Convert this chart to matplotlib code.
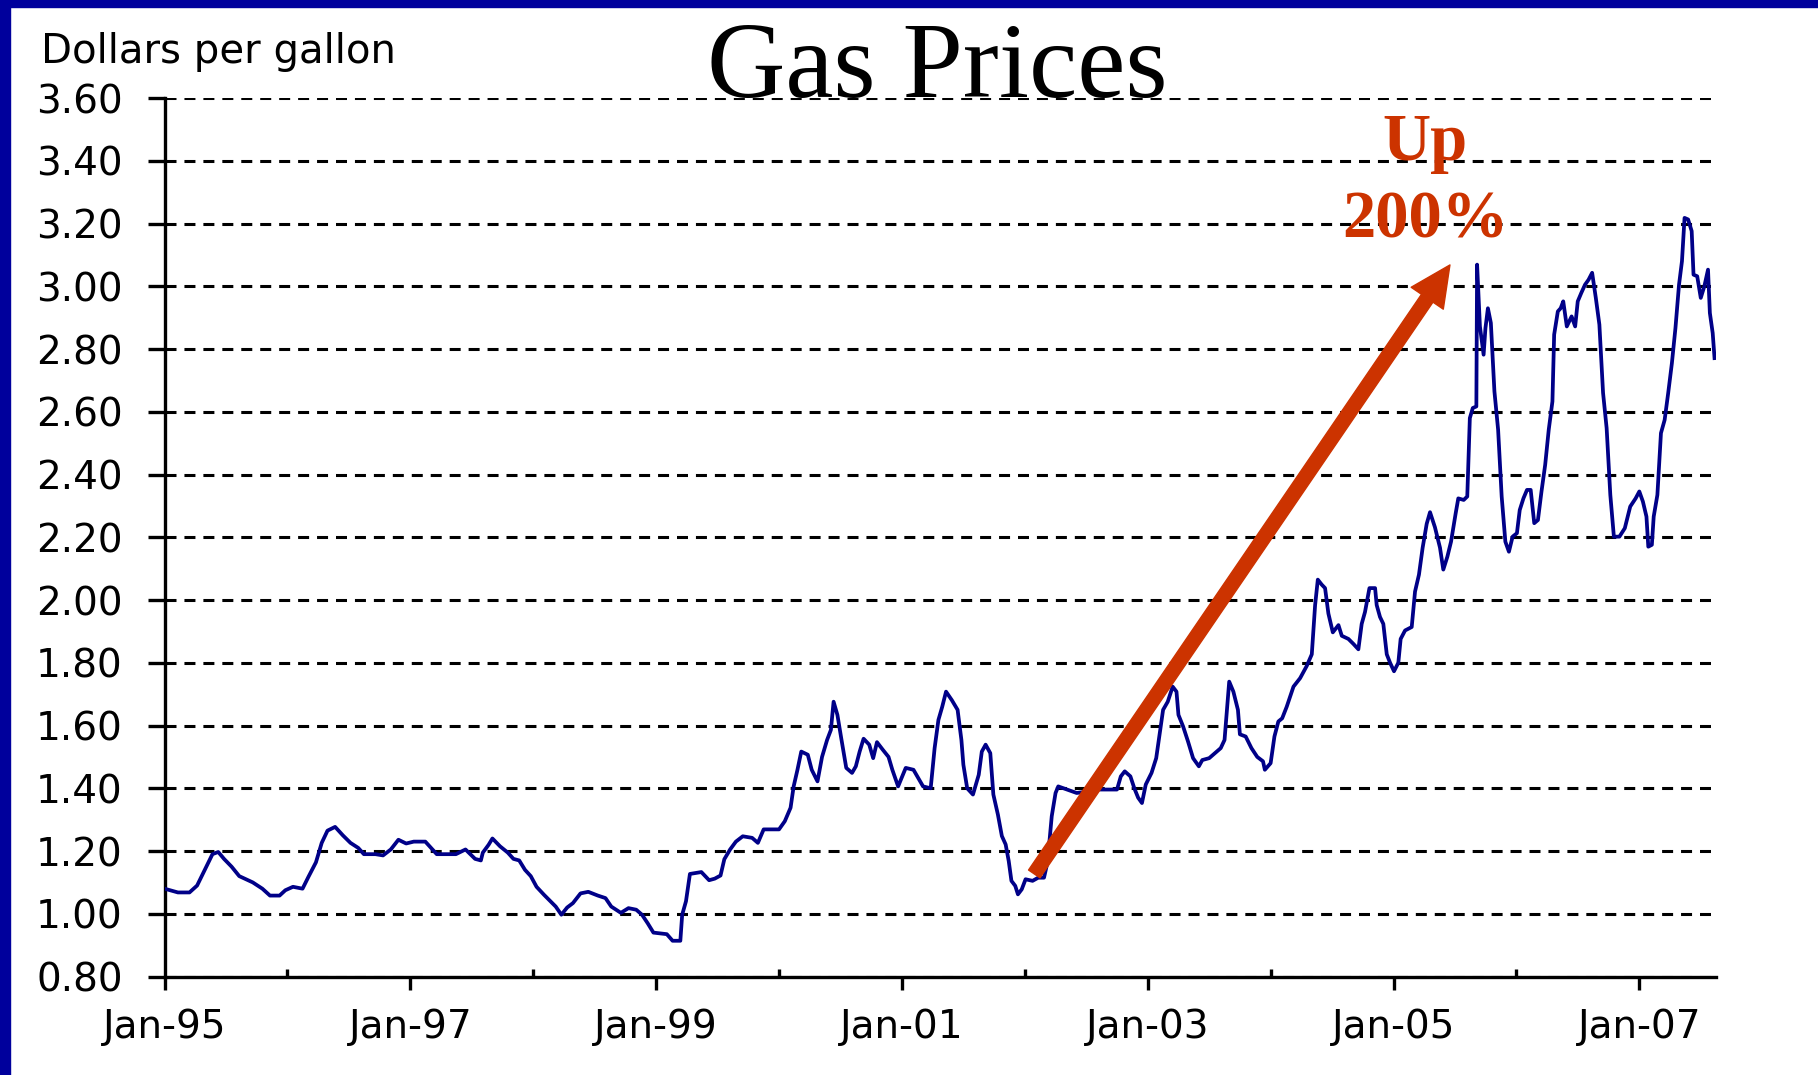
import matplotlib
matplotlib.use("Agg")
import matplotlib.pyplot as plt
from matplotlib.patches import Rectangle

# weekly regular gasoline price (decimal year, $/gal)
years = [
    1995.000, 1995.109, 1995.203, 1995.265, 1995.328, 1995.390, 1995.437, 1995.484,
    1995.546, 1995.608, 1995.718, 1995.796, 1995.858, 1995.936, 1995.983, 1996.045,
    1996.123, 1996.170, 1996.232, 1996.279, 1996.326, 1996.388, 1996.451, 1996.513,
    1996.576, 1996.622, 1996.716, 1996.778, 1996.841, 1996.903, 1996.966, 1997.028,
    1997.122, 1997.168, 1997.215, 1997.371, 1997.449, 1997.527, 1997.574, 1997.590,
    1997.637, 1997.668, 1997.730, 1997.793, 1997.839, 1997.886, 1997.933, 1997.980,
    1998.027, 1998.089, 1998.183, 1998.229, 1998.276, 1998.323, 1998.385, 1998.448,
    1998.526, 1998.588, 1998.635, 1998.713, 1998.775, 1998.838, 1998.885, 1998.931,
    1998.978, 1999.087, 1999.134, 1999.197, 1999.212, 1999.243, 1999.275, 1999.368,
    1999.431, 1999.477, 1999.524, 1999.555, 1999.602, 1999.649, 1999.705,
    1999.781, 1999.828, 1999.875, 2000.000, 2000.047, 2000.094, 2000.119, 2000.150,
    2000.181, 2000.234, 2000.266, 2000.313, 2000.350, 2000.391, 2000.422, 2000.444,
    2000.475, 2000.506, 2000.547, 2000.594, 2000.625, 2000.656, 2000.688, 2000.734,
    2000.766, 2000.797, 2000.844, 2000.891, 2000.922, 2000.969, 2001.031, 2001.094,
    2001.125, 2001.172, 2001.234, 2001.266, 2001.297, 2001.328, 2001.359, 2001.406,
    2001.453, 2001.484, 2001.500, 2001.531, 2001.578, 2001.625, 2001.650, 2001.681,
    2001.719, 2001.744, 2001.781, 2001.813, 2001.844, 2001.869, 2001.891, 2001.922,
    2001.944, 2001.975, 2002.006, 2002.063, 2002.109, 2002.156, 2002.181, 2002.203,
    2002.219, 2002.250, 2002.272, 2002.344, 2002.422, 2002.516, 2002.594, 2002.750,
    2002.781, 2002.813, 2002.859, 2002.891, 2002.922, 2002.953, 2002.984, 2003.031,
    2003.069, 2003.094, 2003.125, 2003.163, 2003.203, 2003.234, 2003.250, 2003.288,
    2003.328, 2003.369, 2003.416, 2003.444, 2003.500, 2003.547, 2003.594, 2003.625,
    2003.663, 2003.697, 2003.734, 2003.750, 2003.797, 2003.844, 2003.891, 2003.938,
    2003.953, 2004.000, 2004.031, 2004.063, 2004.094, 2004.131,
    2004.186, 2004.240, 2004.294, 2004.335, 2004.362, 2004.384, 2004.416, 2004.443,
    2004.470, 2004.506, 2004.552, 2004.579, 2004.633, 2004.674, 2004.714, 2004.741,
    2004.768, 2004.804, 2004.850, 2004.863, 2004.890, 2004.917, 2004.945, 2004.972,
    2005.004, 2005.039, 2005.058, 2005.094, 2005.148, 2005.175, 2005.207, 2005.237,
    2005.270, 2005.297, 2005.337, 2005.378, 2005.405, 2005.438, 2005.468, 2005.506,
    2005.527, 2005.571, 2005.600, 2005.621, 2005.645, 2005.674, 2005.680, 2005.703,
    2005.733, 2005.748, 2005.768, 2005.792, 2005.821, 2005.851, 2005.880, 2005.910,
    2005.939, 2005.969, 2006.004, 2006.027, 2006.057, 2006.086, 2006.116, 2006.145,
    2006.175, 2006.204, 2006.234, 2006.263, 2006.293, 2006.307, 2006.337, 2006.360,
    2006.381, 2006.410, 2006.449, 2006.478, 2006.499, 2006.528, 2006.558, 2006.587,
    2006.616, 2006.646, 2006.675, 2006.705, 2006.734, 2006.764, 2006.793, 2006.838,
    2006.882, 2006.926, 2006.970, 2007.000, 2007.029, 2007.058, 2007.073, 2007.102,
    2007.117, 2007.147, 2007.176, 2007.206, 2007.235, 2007.265, 2007.294, 2007.323,
    2007.347, 2007.368, 2007.397, 2007.426, 2007.441, 2007.471, 2007.500, 2007.529,
    2007.559, 2007.574, 2007.597, 2007.612,
]
prices = [
    1.080, 1.068, 1.068, 1.090, 1.140, 1.190, 1.197, 1.175,
    1.150, 1.120, 1.100, 1.080, 1.058, 1.058, 1.075, 1.086,
    1.080, 1.117, 1.164, 1.226, 1.265, 1.277, 1.250, 1.226,
    1.210, 1.190, 1.190, 1.186, 1.205, 1.236, 1.224, 1.230,
    1.230, 1.210, 1.190, 1.190, 1.205, 1.175, 1.170, 1.195,
    1.220, 1.240, 1.215, 1.195, 1.175, 1.170, 1.140, 1.120,
    1.086, 1.060, 1.023, 0.997, 1.020, 1.034, 1.065, 1.070,
    1.058, 1.050, 1.023, 1.003, 1.018, 1.013, 0.997, 0.970,
    0.940, 0.935, 0.914, 0.914, 0.997, 1.040, 1.127, 1.133,
    1.107, 1.112, 1.122, 1.174, 1.205, 1.230, 1.247,
    1.242, 1.226, 1.269, 1.269, 1.295, 1.338, 1.406, 1.459,
    1.517, 1.507, 1.459, 1.422, 1.500, 1.554, 1.586, 1.676,
    1.634, 1.560, 1.465, 1.449, 1.470, 1.517, 1.558, 1.539,
    1.496, 1.547, 1.523, 1.500, 1.459, 1.406, 1.465, 1.459,
    1.438, 1.406, 1.400, 1.528, 1.618, 1.660, 1.708, 1.681,
    1.650, 1.554, 1.475, 1.400, 1.380, 1.443, 1.517, 1.539,
    1.512, 1.380, 1.316, 1.248, 1.221, 1.168, 1.105, 1.089,
    1.062, 1.078, 1.110, 1.105, 1.115, 1.115, 1.158, 1.242,
    1.311, 1.385, 1.406, 1.396, 1.385, 1.390, 1.396, 1.396,
    1.438, 1.454, 1.438, 1.400, 1.370, 1.353, 1.412, 1.449,
    1.496, 1.565, 1.650, 1.676, 1.724, 1.708, 1.634, 1.597,
    1.549, 1.496, 1.470, 1.490, 1.496, 1.512, 1.528, 1.554,
    1.740, 1.708, 1.650, 1.572, 1.565, 1.528, 1.500, 1.486,
    1.459, 1.480, 1.565, 1.613, 1.623, 1.660,
    1.724, 1.751, 1.790, 1.827, 1.984, 2.065, 2.049, 2.038,
    1.957, 1.897, 1.920, 1.886, 1.876, 1.860, 1.843, 1.924,
    1.962, 2.038, 2.038, 1.984, 1.946, 1.924, 1.827, 1.800,
    1.773, 1.800, 1.876, 1.903, 1.914, 2.027, 2.081, 2.167,
    2.243, 2.280, 2.232, 2.167, 2.097, 2.138, 2.186, 2.277,
    2.324, 2.319, 2.330, 2.580, 2.612, 2.617, 3.069, 2.872,
    2.782, 2.867, 2.930, 2.883, 2.665, 2.543, 2.330, 2.186,
    2.154, 2.202, 2.213, 2.287, 2.324, 2.351, 2.351, 2.245,
    2.255, 2.346, 2.431, 2.543, 2.633, 2.846, 2.920, 2.930,
    2.952, 2.872, 2.904, 2.872, 2.952, 2.979, 3.005, 3.021,
    3.043, 2.963, 2.878, 2.660, 2.548, 2.335, 2.202, 2.202,
    2.229, 2.298, 2.324, 2.346, 2.314, 2.266, 2.170, 2.176,
    2.266, 2.335, 2.532, 2.574, 2.660, 2.755, 2.867, 3.005,
    3.080, 3.218, 3.213, 3.176, 3.037, 3.032, 2.963, 3.000,
    3.053, 2.915, 2.851, 2.771,
]

y_ticks = [0.80, 1.00, 1.20, 1.40, 1.60, 1.80, 2.00, 2.20, 2.40, 2.60, 2.80, 3.00, 3.20, 3.40, 3.60]
x_major = [1995, 1997, 1999, 2001, 2003, 2005, 2007]
x_major_labels = ["Jan-95", "Jan-97", "Jan-99", "Jan-01", "Jan-03", "Jan-05", "Jan-07"]
x_minor = [1996, 1998, 2000, 2002, 2004, 2006]

arrow_from = (2002.077, 1.127)
arrow_to = (2005.459, 3.068)

RED = "#CC3300"
NAVY = "#000088"

fig = plt.figure(figsize=(18.18, 10.75), dpi=100)
ax = fig.add_axes([0.0905, 0.0916, 0.8534, 0.8172])

ax.plot(years, prices, color=NAVY, lw=2.7, zorder=3)

ax.set_xlim(1995.0, 2007.624)
ax.set_ylim(0.8, 3.6)

ax.set_yticks(y_ticks)
ax.set_yticklabels(["%.2f" % v for v in y_ticks])
ax.set_xticks(x_major)
ax.set_xticklabels(x_major_labels)
ax.set_xticks(x_minor, minor=True)

ax.grid(axis="y", color="black", lw=2.2, linestyle=(0, (3.6, 2.6)), zorder=1)
ax.set_axisbelow(True)

for side in ["top", "right"]:
    ax.spines[side].set_visible(False)
for side in ["left", "bottom"]:
    ax.spines[side].set_linewidth(2.4)

ax.tick_params(axis="y", direction="out", length=12, width=2.4, pad=18, labelsize=28)
ax.tick_params(axis="x", which="major", direction="out", length=9, width=2.4, pad=14, labelsize=28)
ax.tick_params(axis="x", which="minor", direction="in", length=5.5, width=2.4)

ax.annotate(
    "", xy=arrow_to, xytext=arrow_from,
    arrowprops=dict(facecolor=RED, edgecolor=RED, width=10, headwidth=28, headlength=29, shrink=0),
    zorder=4,
)

fig.text(0.5154, 0.9098, "Gas Prices", family="Liberation Serif", fontsize=78, ha="center", va="baseline")
fig.text(0.0223, 0.9414, "Dollars per gallon", fontsize=29, ha="left", va="baseline")
fig.text(0.7838, 0.851, "Up", family="Liberation Serif", fontweight="bold", fontsize=48,
         color=RED, ha="center", va="baseline")
fig.text(0.7838, 0.7795, "200%", family="Liberation Serif", fontweight="bold", fontsize=48,
         color=RED, ha="center", va="baseline")

# slide frame: blue strips on the left and top
fig.patches.append(Rectangle((0, 0), 0.0055, 1, transform=fig.transFigure, color="#00009C", zorder=10))
fig.patches.append(Rectangle((0, 1 - 0.0065), 1, 0.0065, transform=fig.transFigure, color="#00009C", zorder=10))

fig.savefig("out.png", dpi=100)
